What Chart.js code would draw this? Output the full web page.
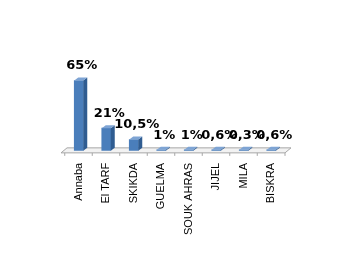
<!DOCTYPE html>
<html>
<head>
<meta charset="utf-8">
<script src="https://cdn.jsdelivr.net/npm/chart.js@4"></script>
<style>
  html, body { margin: 0; padding: 0; background: #fff; }
  #wrap { width: 345px; height: 271px; }
</style>
</head>
<body>
<div id="wrap"><canvas id="c" width="345" height="271"></canvas></div>
<script>
const wilayas = ['Annaba', 'El TARF', 'SKIKDA', 'GUELMA', 'SOUK AHRAS', 'JIJEL', 'MILA', 'BISKRA'];
const percents = [65, 21, 10.5, 1, 1, 0.6, 0.3, 0.6];
const percentLabels = ['65%', '21%', '10,5%', '1%', '1%', '0,6%', '0,3%', '0,6%'];

const DEPTH = 4;

// fake 3d: side + top faces, floor, value labels
const bar3d = {
  id: 'bar3d',
  beforeDatasetsDraw(chart) {
    const { ctx, chartArea } = chart;
    const y = chartArea.bottom;
    ctx.save();
    ctx.fillStyle = '#f2f2f2';
    ctx.strokeStyle = '#a6a6a6';
    ctx.lineWidth = 1;
    ctx.beginPath();
    ctx.moveTo(chartArea.left - 4, y + 2);
    ctx.lineTo(chartArea.left + 2, y - DEPTH + 1);
    ctx.lineTo(chartArea.right + 6, y - DEPTH + 1);
    ctx.lineTo(chartArea.right, y + 2);
    ctx.closePath();
    ctx.fill();
    ctx.stroke();
    const meta = chart.getDatasetMeta(0);
    meta.data.forEach((bar, i) => {
      const x = bar.x - 14;
      ctx.beginPath();
      ctx.moveTo(x, y + 2);
      ctx.lineTo(x, y + 5);
      ctx.stroke();
    });
    ctx.beginPath();
    ctx.moveTo(chartArea.right, y + 2);
    ctx.lineTo(chartArea.right, y + 5);
    ctx.stroke();
    ctx.restore();
  },
  afterDatasetsDraw(chart) {
    const { ctx } = chart;
    const meta = chart.getDatasetMeta(0);
    ctx.save();
    meta.data.forEach((bar, i) => {
      const half = bar.width / 2;
      const r = bar.x + half;
      const l = bar.x - half;
      ctx.fillStyle = '#2f5c91';
      ctx.beginPath();
      ctx.moveTo(r, bar.y);
      ctx.lineTo(r + DEPTH, bar.y - DEPTH + 1);
      ctx.lineTo(r + DEPTH, bar.base - DEPTH + 1);
      ctx.lineTo(r, bar.base);
      ctx.closePath();
      ctx.fill();
      ctx.fillStyle = '#7ea4d4';
      ctx.beginPath();
      ctx.moveTo(l, bar.y);
      ctx.lineTo(l + DEPTH, bar.y - DEPTH + 1);
      ctx.lineTo(r + DEPTH, bar.y - DEPTH + 1);
      ctx.lineTo(r, bar.y);
      ctx.closePath();
      ctx.fill();

      ctx.fillStyle = '#000';
      ctx.font = 'bold 13px "DejaVu Sans"';
      ctx.textAlign = 'center';
      ctx.textBaseline = 'bottom';
      ctx.fillText(percentLabels[i], bar.x + 3, bar.y - 8);
    });
    ctx.restore();
  }
};

new Chart(document.getElementById('c'), {
  type: 'bar',
  data: {
    labels: wilayas,
    datasets: [{
      data: percents,
      backgroundColor: '#4a7ebb',
      barThickness: 9,
      minBarLength: 1
    }]
  },
  options: {
    responsive: false,
    animation: false,
    layout: { padding: { top: 60, left: 65, right: 60, bottom: 32 } },
    plugins: { legend: { display: false }, tooltip: { enabled: false } },
    scales: {
      x: {
        grid: { display: false },
        border: { display: false },
        ticks: {
          color: '#000',
          font: { family: 'Liberation Sans', size: 11 },
          minRotation: 90,
          maxRotation: 90,
          padding: 4
        }
      },
      y: {
        display: false,
        min: 0,
        max: 84
      }
    }
  },
  plugins: [bar3d]
});
</script>
</body>
</html>
